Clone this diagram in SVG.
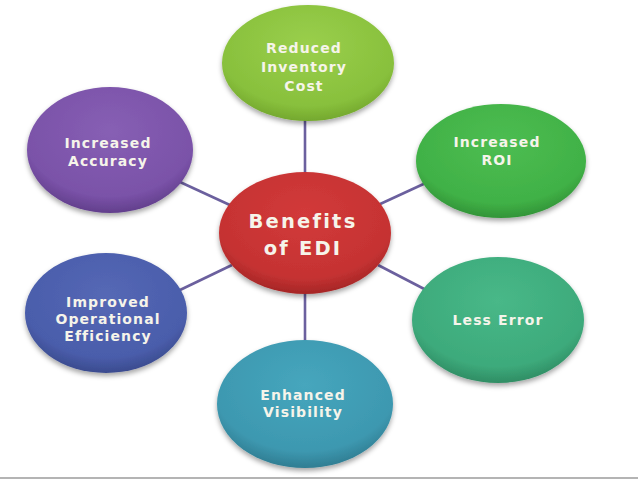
<svg xmlns="http://www.w3.org/2000/svg" width="638" height="479" viewBox="0 0 638 479">
<style>
.conn{stroke:#6b609e;stroke-width:2.6;fill:none}
.lbl{font-family:"DejaVu Sans",Verdana,sans-serif;font-weight:bold;font-size:14px;fill:#f6f4ea;text-anchor:middle;letter-spacing:1.1px}
.big{font-size:19.5px;letter-spacing:2.2px}
.node ellipse{filter:url(#sh)}
</style>
<defs>
<filter id="sh" x="-20%" y="-20%" width="140%" height="150%">
<feDropShadow dx="0" dy="3" stdDeviation="2.5" flood-color="#000" flood-opacity="0.35"/>
</filter>
<radialGradient id="gLime" cx="50%" cy="35%" r="65%"><stop offset="0" stop-color="#9acf4c"/><stop offset="0.8" stop-color="#88c03c"/><stop offset="1" stop-color="#74a82e"/></radialGradient>
<radialGradient id="gRed" cx="50%" cy="35%" r="65%"><stop offset="0" stop-color="#d23a3a"/><stop offset="0.8" stop-color="#c53232"/><stop offset="1" stop-color="#a52626"/></radialGradient>
<radialGradient id="gPur" cx="50%" cy="35%" r="65%"><stop offset="0" stop-color="#875fb4"/><stop offset="0.8" stop-color="#7a52a8"/><stop offset="1" stop-color="#623f8c"/></radialGradient>
<radialGradient id="gGrn" cx="50%" cy="35%" r="65%"><stop offset="0" stop-color="#4dbd52"/><stop offset="0.8" stop-color="#40b146"/><stop offset="1" stop-color="#329438"/></radialGradient>
<radialGradient id="gBlu" cx="50%" cy="35%" r="65%"><stop offset="0" stop-color="#5568b5"/><stop offset="0.8" stop-color="#4a5dab"/><stop offset="1" stop-color="#3a4b8e"/></radialGradient>
<radialGradient id="gTea" cx="50%" cy="35%" r="65%"><stop offset="0" stop-color="#48b888"/><stop offset="0.8" stop-color="#3daa7b"/><stop offset="1" stop-color="#2f8d64"/></radialGradient>
<radialGradient id="gCya" cx="50%" cy="35%" r="65%"><stop offset="0" stop-color="#46a6bd"/><stop offset="0.8" stop-color="#3d98b0"/><stop offset="1" stop-color="#307d92"/></radialGradient>
</defs>
<rect width="638" height="479" fill="#ffffff"/>
<rect x="0" y="477" width="638" height="2" fill="#b4b4b4"/>
<g id="connectors">
<line class="conn" x1="305" y1="115" x2="305" y2="178"/>
<line class="conn" x1="180" y1="182" x2="232" y2="206"/>
<line class="conn" x1="378" y1="205" x2="430" y2="181"/>
<line class="conn" x1="180" y1="290" x2="232" y2="265"/>
<line class="conn" x1="378" y1="265" x2="430" y2="292"/>
<line class="conn" x1="305" y1="290" x2="305" y2="345"/>
</g>
<g id="reduced" class="node">
<ellipse cx="308" cy="63" rx="86" ry="58" fill="url(#gLime)"/>
<text class="lbl" x="304" y="53">Reduced</text>
<text class="lbl" x="304" y="72">Inventory</text>
<text class="lbl" x="304" y="91">Cost</text>
</g>
<g id="accuracy" class="node">
<ellipse cx="110" cy="150" rx="83" ry="63" fill="url(#gPur)"/>
<text class="lbl" x="108" y="148">Increased</text>
<text class="lbl" x="108" y="166">Accuracy</text>
</g>
<g id="roi" class="node">
<ellipse cx="501" cy="161" rx="85" ry="57" fill="url(#gGrn)"/>
<text class="lbl" x="497" y="147">Increased</text>
<text class="lbl" x="497" y="165">ROI</text>
</g>
<g id="efficiency" class="node">
<ellipse cx="106" cy="313" rx="81" ry="60" fill="url(#gBlu)"/>
<text class="lbl" x="108" y="307">Improved</text>
<text class="lbl" x="108" y="324">Operational</text>
<text class="lbl" x="108" y="341">Efficiency</text>
</g>
<g id="lesserror" class="node">
<ellipse cx="498" cy="320" rx="86" ry="63" fill="url(#gTea)"/>
<text class="lbl" x="498" y="325">Less Error</text>
</g>
<g id="visibility" class="node">
<ellipse cx="305" cy="404" rx="88" ry="64" fill="url(#gCya)"/>
<text class="lbl" x="303" y="400">Enhanced</text>
<text class="lbl" x="303" y="417">Visibility</text>
</g>
<g id="center" class="node">
<ellipse cx="305" cy="233" rx="86" ry="61" fill="url(#gRed)"/>
<text class="lbl big" x="303" y="228">Benefits</text>
<text class="lbl big" x="303" y="255">of EDI</text>
</g>
</svg>
